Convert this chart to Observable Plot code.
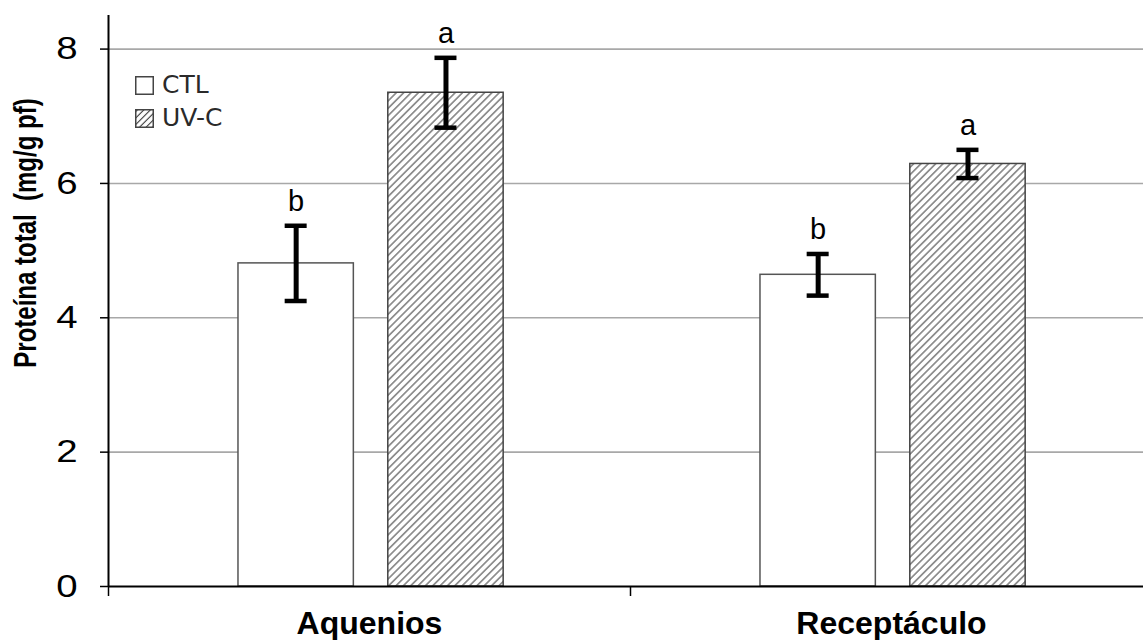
<!DOCTYPE html>
<html><head><meta charset="utf-8">
<script src="https://cdn.jsdelivr.net/npm/d3@7"></script>
<script src="https://cdn.jsdelivr.net/npm/@observablehq/plot@0.6"></script>
<style>
body{margin:0;background:#fff;}
#wrap{position:relative;width:1143px;height:640px;overflow:hidden;background:#fff;}
.leg{position:absolute;left:135px;display:flex;align-items:center;height:26px;font-family:"DejaVu Sans",sans-serif;font-size:25px;color:#2a2a2a;}
.leg span{margin-left:8px;line-height:26px;}
</style></head><body><div id="wrap"></div>
<script>
const categories = ["Aquenios", "Receptáculo"];
const treatments = ["CTL", "UV-C"];
const ctlMean = [4.81, 4.64];
const ctlErr = [0.56, 0.31];
const uvcMean = [7.35, 6.29];
const uvcErr = [0.52, 0.21];
const ctlLetters = ["b", "b"];
const uvcLetters = ["a", "a"];
const yTicks = [0, 2, 4, 6, 8];
const yLabel = "Proteína total  (mg/g pf)";

// layout (in category units)
const slotStart = {"CTL": 0.249, "UV-C": 0.536};
const barWidth = 0.221;

const data = [];
categories.forEach((c, i) => {
  data.push({category: c, ci: i, treatment: treatments[0], mean: ctlMean[i], err: ctlErr[i], letter: ctlLetters[i]});
  data.push({category: c, ci: i, treatment: treatments[1], mean: uvcMean[i], err: uvcErr[i], letter: uvcLetters[i]});
});
const bx1 = d => d.ci + slotStart[d.treatment];
const bx2 = d => bx1(d) + barWidth;
const bxc = d => bx1(d) + barWidth / 2;

const defsMark = () => {
  const defs = d3.create("svg:defs");
  const p = defs.append("pattern").attr("id", "hatch").attr("patternUnits", "userSpaceOnUse")
    .attr("width", 5.2).attr("height", 5.2).attr("patternTransform", "rotate(45)");
  p.append("rect").attr("width", 5.2).attr("height", 5.2).attr("fill", "white");
  p.append("line").attr("x1", 2.6).attr("y1", -1).attr("x2", 2.6).attr("y2", 6.2)
    .attr("stroke", "#444").attr("stroke-width", 1.05);
  return defs.node();
};

const chart = Plot.plot({
  width: 1143, height: 640,
  marginLeft: 108, marginRight: 0, marginTop: 15, marginBottom: 54,
  x: {domain: [0, categories.length], range: [108, 1152]},
  y: {domain: [0, 8.5]},
  style: {fontFamily: "'Liberation Sans', Arial, sans-serif", background: "white", color: "black"},
  marks: [
    defsMark,
    Plot.gridY(yTicks.filter(t => t > 0), {stroke: "#a8a8a8", strokeOpacity: 1, strokeWidth: 1.6}),
    Plot.rectY(data.filter(d => d.treatment === "CTL"), {x1: bx1, x2: bx2, y1: 0, y2: "mean", fill: "white", stroke: "#555", strokeWidth: 1.5}),
    Plot.rectY(data.filter(d => d.treatment === "UV-C"), {x1: bx1, x2: bx2, y1: 0, y2: "mean", fill: "url(#hatch)", stroke: "#444", strokeWidth: 1.5}),
    Plot.ruleX(data, {x: bxc, y1: d => d.mean - d.err, y2: d => d.mean + d.err, stroke: "black", strokeWidth: 5}),
    Plot.ruleY(data, {y: d => d.mean + d.err, x1: bxc, x2: bxc, insetLeft: -11, insetRight: -11, stroke: "black", strokeWidth: 4.5}),
    Plot.ruleY(data, {y: d => d.mean - d.err, x1: bxc, x2: bxc, insetLeft: -11, insetRight: -11, stroke: "black", strokeWidth: 4.5}),
    Plot.text(data, {x: bxc, y: d => d.mean + d.err, text: "letter", dy: -24, fontSize: 29, fill: "black"}),
    Plot.ruleY([0], {stroke: "black", strokeWidth: 2}),
    Plot.ruleX([0], {y1: 0, y2: 8.5, stroke: "black", strokeWidth: 2}),
    Plot.axisY({ticks: yTicks, tickSize: 8, tickPadding: 23, fontSize: 32, label: null, strokeWidth: 1.5}),
    Plot.axisX({ticks: d3.range(categories.length + 1), tickSize: 10, tickFormat: () => "", label: null, strokeWidth: 1.5}),
    Plot.axisX({ticks: categories.map((c, i) => i + 0.5), tickSize: 0, tickPadding: 25, tickFormat: v => categories[Math.floor(v)], fontSize: 32, fontWeight: "bold", label: null}),
    Plot.text([yLabel], {frameAnchor: "left", textAnchor: "middle", lineAnchor: "middle", rotate: -90, dx: -83, dy: -68, fontSize: 24, fontWeight: "bold", fill: "black"})
  ]
});

d3.select(chart).selectAll('g[aria-label="y-axis tick label"] text').each(function () {
  const t = this.getAttribute("transform") || "";
  this.setAttribute("transform", t + " scale(1.2,1)");
});
d3.select(chart).selectAll("text").filter(function () { return this.textContent === yLabel; }).each(function () {
  const t = this.getAttribute("transform") || "";
  this.setAttribute("transform", t + " scale(1,1.3)");
});

const wrap = document.getElementById("wrap");
wrap.appendChild(chart);

const legendHTML = `
<div class="leg" style="top:72px"><svg width="19" height="19"><rect x="0.75" y="0.75" width="17.5" height="17.5" fill="white" stroke="#444" stroke-width="1.5"/></svg><span>${treatments[0]}</span></div>
<div class="leg" style="top:105px"><svg width="19" height="19"><defs><pattern id="hatchS" patternUnits="userSpaceOnUse" width="4.6" height="4.6" patternTransform="rotate(45)"><rect width="4.6" height="4.6" fill="white"/><line x1="2.3" y1="-1" x2="2.3" y2="5.6" stroke="#333" stroke-width="1.1"/></pattern></defs><rect x="0.75" y="0.75" width="17.5" height="17.5" fill="url(#hatchS)" stroke="#444" stroke-width="1.5"/></svg><span>${treatments[1]}</span></div>`;
wrap.insertAdjacentHTML("beforeend", legendHTML);
</script>
</body></html>
